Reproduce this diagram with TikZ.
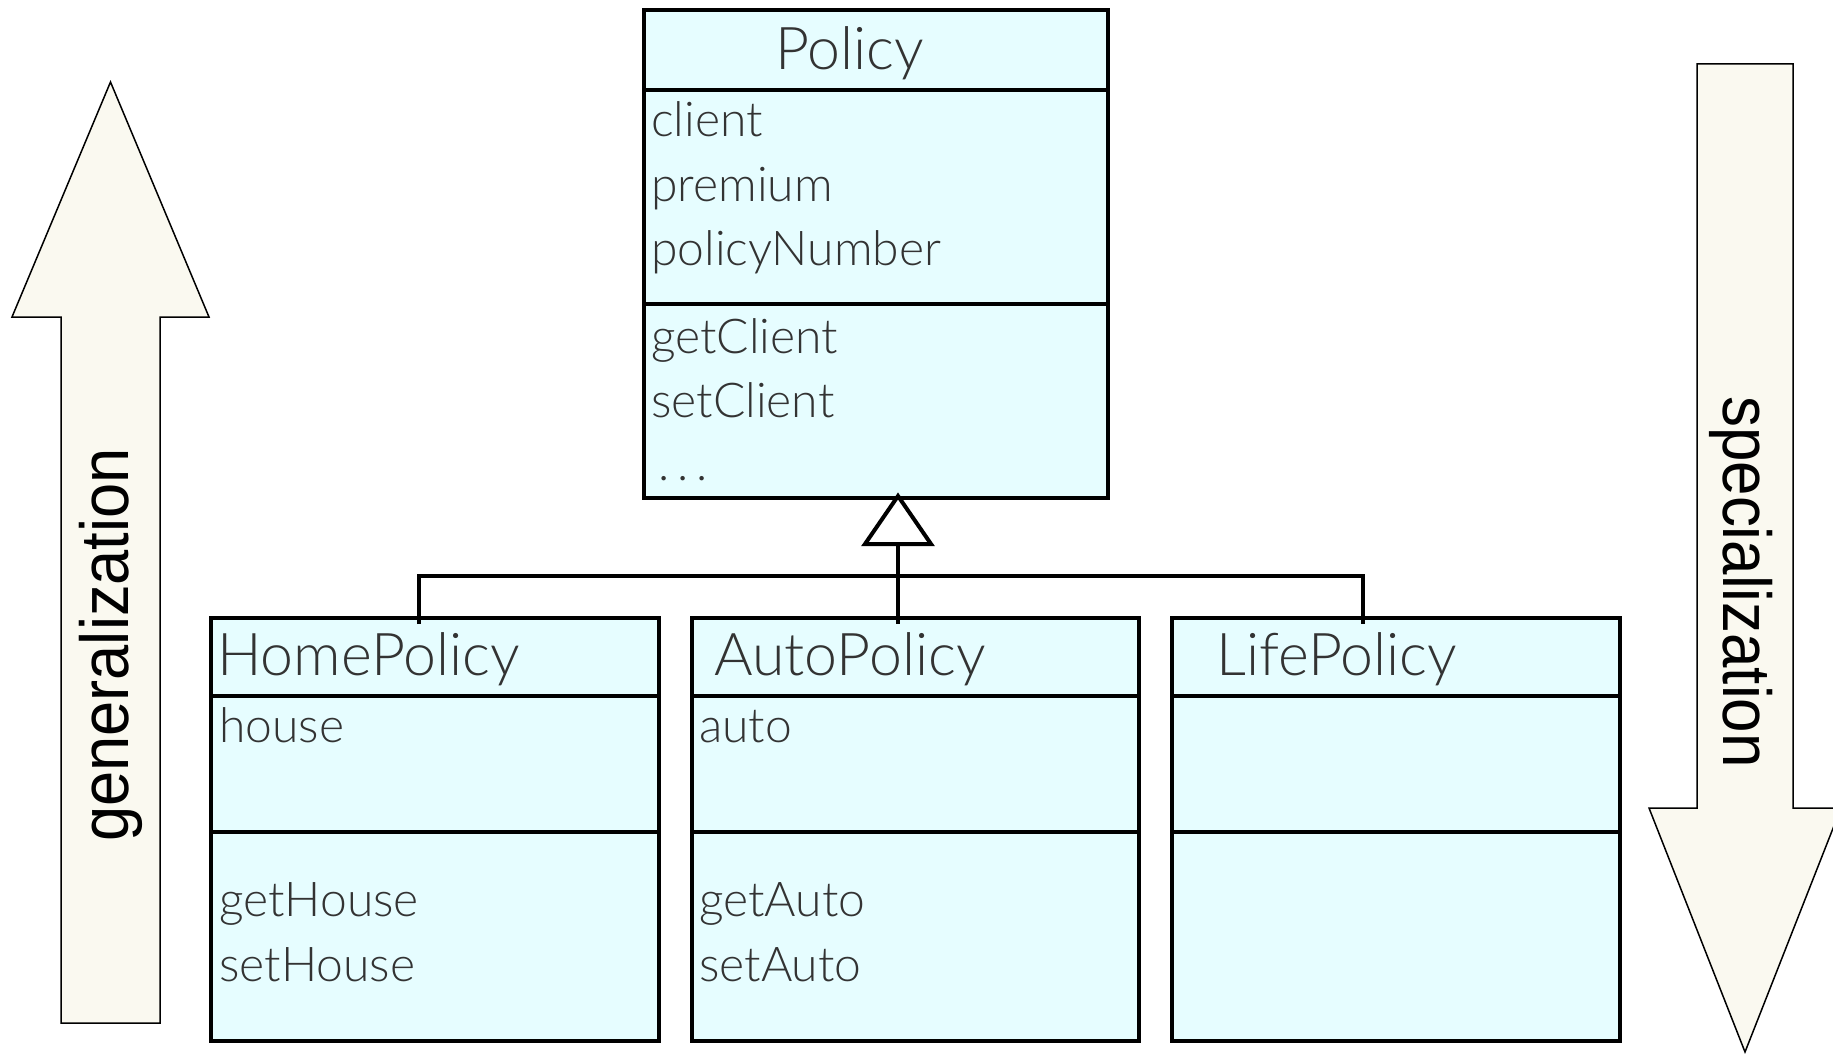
\documentclass[tikz,border=0pt]{standalone}
\usepackage{fontspec}
\setmainfont{Lato Light}
\newfontfamily\labelfont{Liberation Sans}
\usetikzlibrary{calc}
\definecolor{boxfill}{HTML}{E6FDFF}
\definecolor{arrowfill}{HTML}{FAF9F0}
\definecolor{txt}{HTML}{333333}
\begin{document}
\begin{tikzpicture}[x=1pt,y=-1pt,
  classbox/.style={draw=black, line width=4pt, fill=boxfill, rectangle, inner sep=0pt, anchor=north west},
  sepline/.style={line width=4pt, draw=black},
  cname/.style={anchor=base west, inner sep=0pt, text=txt, font=\fontsize{59}{62}\selectfont},
  attr/.style={anchor=base west, inner sep=0pt, text=txt, font=\fontsize{48}{52}\selectfont},
  bigarrow/.style={draw=black, line width=1.5pt, fill=arrowfill, line join=miter},
  inh/.style={line width=4pt, draw=black},
  vlabel/.style={inner sep=0pt, anchor=base, font=\labelfont\fontsize{68}{70}\selectfont}
]
\path[use as bounding box] (0,0) rectangle (1833,1054);
\clip (0,0) rectangle (1833,1054);

% direction arrows
\draw[bigarrow] (61,1023) -- (61,317) -- (12,317) -- (110.5,82) -- (209,317) -- (160,317) -- (160,1023) -- cycle;
\draw[bigarrow] (1697,64) -- (1793,64) -- (1793,808) -- (1841,808) -- (1745,1052) -- (1649,808) -- (1697,808) -- cycle;
\node[vlabel, rotate=90] (gen) at (128,645) {\scalebox{0.93}[1]{generalization}};
\node[vlabel, rotate=-90] (spec) at (1723,582) {\scalebox{0.91}[1]{specialization}};

% Policy class
\node[classbox, minimum width=464pt, minimum height=488pt] (policy) at (642,8) {};
\draw[sepline] (policy.west |- 0,90) -- (policy.east |- 0,90);
\draw[sepline] (policy.west |- 0,304) -- (policy.east |- 0,304);
\node[cname] (pname) at (775,70) {Policy};
\node[attr] (a1) at (651,137) {client};
\node[attr] (a2) at (651,201) {premium};
\node[attr] (a3) at (651,265) {policyNumber};
\node[attr] (m1) at (651,353) {getClient};
\node[attr] (m2) at (651,417) {setClient};
\node[attr] (m3) at (658,480) {.\hspace{8pt}.\hspace{8pt}.};

% subclasses
\node[classbox, minimum width=448pt, minimum height=423pt] (home) at (209,616) {};
\node[classbox, minimum width=447pt, minimum height=423pt] (auto) at (690,616) {};
\node[classbox, minimum width=448pt, minimum height=423pt] (life) at (1170,616) {};
\foreach \b in {home,auto,life}{
  \draw[sepline] (\b.west |- 0,696) -- (\b.east |- 0,696);
  \draw[sepline] (\b.west |- 0,832) -- (\b.east |- 0,832);
}
\node[cname] (hname) at (217,675) {HomePolicy};
\node[attr] (h1) at (219,742) {house};
\node[attr] (h2) at (219,916) {getHouse};
\node[attr] (h3) at (219,981) {setHouse};
\node[cname] (aname) at (714,675) {AutoPolicy};
\node[attr] (x1) at (699,742) {auto};
\node[attr] (x2) at (699,916) {getAuto};
\node[attr] (x3) at (699,981) {setAuto};
\node[cname] (lname) at (1216,675) {LifePolicy};

% inheritance connector
\coordinate (apex) at (898,496);
\coordinate (bus) at (898,576);
\draw[inh] ($(home.north)+(-16,8)$) |- (bus) -| ($(life.north)+(-33,8)$);
\draw[inh] ($(apex)+(0,48)$) -- ($(auto.north -| apex)+(0,8)$);
\draw[inh, fill=white, line join=miter] (apex) -- ++(-33,48) -- ++(66,0) -- cycle;
\end{tikzpicture}
\end{document}
